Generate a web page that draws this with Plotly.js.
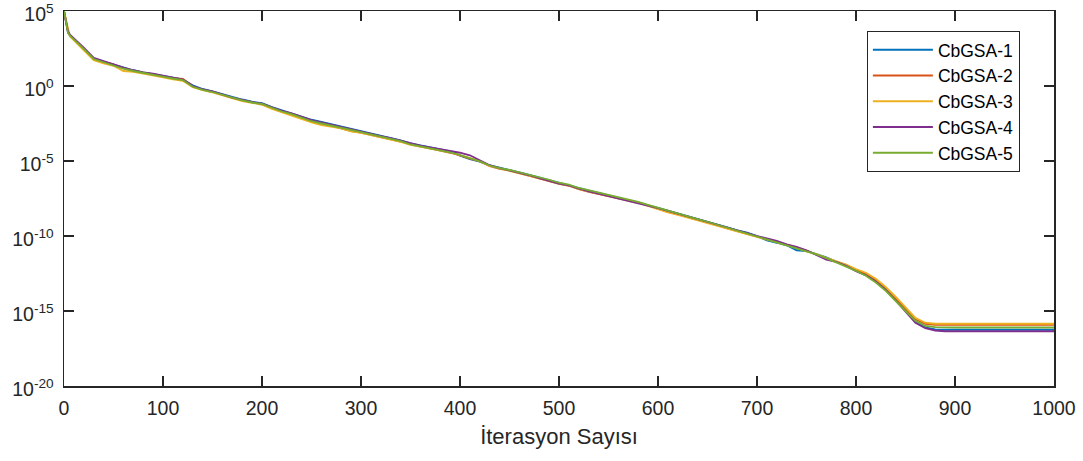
<!DOCTYPE html>
<html>
<head>
<meta charset="utf-8">
<script src="https://cdn.plot.ly/plotly-3.0.1.min.js"></script>
<style>html,body{margin:0;padding:0;background:#fff;}#chart{width:1083px;height:461px;}</style>
</head>
<body>
<div id="chart"></div>
<script>
// Iteration knots
const iterations = [0,2,4,6,10,20,30,40,50,60,70,80,90,100,110,120,130,140,150,160,170,180,190,200,210,220,230,240,250,260,270,280,290,300,310,320,330,340,350,360,370,380,390,400,410,420,430,440,450,460,470,480,490,500,510,520,530,540,550,560,570,580,590,600,610,620,630,640,650,660,670,680,690,700,710,720,730,740,750,760,770,780,790,800,810,820,830,840,850,860,870,880,890,900,1000];

// log10 of best fitness
const cbgsa1Log10 = [
 5.0, 4.3, 3.55, 3.35, 3.1, 2.5, 1.85, 1.62, 1.42, 1.2,
 1.05, 0.9, 0.8, 0.68, 0.55, 0.45, 0.05, -0.2, -0.35, -0.55,
 -0.75, -0.9, -1.05, -1.15, -1.4, -1.62, -1.8, -2.02, -2.25, -2.4,
 -2.55, -2.72, -2.9, -3.0, -3.15, -3.3, -3.45, -3.62, -3.82, -3.95,
 -4.08, -4.22, -4.35, -4.65, -4.88, -5.05, -5.3, -5.45, -5.58, -5.75,
 -5.92, -6.1, -6.3, -6.48, -6.62, -6.85, -6.98, -7.12, -7.28, -7.42,
 -7.6, -7.78, -7.95, -8.12, -8.3, -8.48, -8.68, -8.85, -9.02, -9.2,
 -9.42, -9.62, -9.78, -10.0, -10.3, -10.45, -10.62, -10.95, -11.0, -11.2,
 -11.42, -11.7, -11.95, -12.3, -12.6, -13.0, -13.55, -14.25, -14.95, -15.7,
 -16.1, -16.22, -16.25, -16.25, -16.25];
const cbgsa2Log10 = [
 5.0, 4.35, 3.6, 3.38, 3.12, 2.45, 1.82, 1.6, 1.45, 1.18,
 1.02, 0.88, 0.78, 0.62, 0.52, 0.48, -0.02, -0.25, -0.4, -0.62,
 -0.8, -0.95, -1.1, -1.22, -1.48, -1.7, -1.88, -2.1, -2.3, -2.48,
 -2.65, -2.82, -3.0, -3.1, -3.25, -3.4, -3.52, -3.7, -3.9, -4.02,
 -4.18, -4.3, -4.45, -4.62, -4.85, -5.02, -5.35, -5.52, -5.62, -5.8,
 -5.98, -6.18, -6.38, -6.52, -6.65, -6.88, -7.05, -7.18, -7.32, -7.45,
 -7.62, -7.75, -7.98, -8.2, -8.4, -8.55, -8.72, -8.9, -9.1, -9.28,
 -9.5, -9.68, -9.82, -10.02, -10.2, -10.38, -10.58, -10.78, -10.98, -11.25,
 -11.5, -11.72, -11.92, -12.25, -12.5, -12.92, -13.45, -14.15, -14.85, -15.55,
 -15.85, -15.92, -15.92, -15.92, -15.92];
const cbgsa3Log10 = [
 5.0, 4.45, 3.7, 3.3, 3.05, 2.4, 1.72, 1.5, 1.35, 1.0,
 0.95, 0.82, 0.72, 0.58, 0.45, 0.35, -0.08, -0.28, -0.42, -0.62,
 -0.82, -1.0, -1.12, -1.25, -1.52, -1.75, -1.95, -2.2, -2.42, -2.6,
 -2.7, -2.82, -3.02, -3.12, -3.28, -3.42, -3.55, -3.72, -3.92, -4.05,
 -4.15, -4.28, -4.42, -4.6, -4.82, -5.0, -5.32, -5.5, -5.65, -5.82,
 -6.0, -6.15, -6.35, -6.5, -6.62, -6.88, -7.05, -7.2, -7.35, -7.45,
 -7.65, -7.8, -8.0, -8.22, -8.42, -8.6, -8.78, -8.95, -9.12, -9.32,
 -9.52, -9.7, -9.85, -10.05, -10.25, -10.4, -10.58, -10.78, -11.02, -11.2,
 -11.45, -11.68, -11.9, -12.2, -12.45, -12.85, -13.4, -14.05, -14.75, -15.45,
 -15.78, -15.85, -15.85, -15.85, -15.85];
const cbgsa4Log10 = [
 5.0, 4.4, 3.65, 3.42, 3.18, 2.55, 1.88, 1.65, 1.4, 1.22,
 1.05, 0.9, 0.82, 0.7, 0.58, 0.42, 0.0, -0.22, -0.35, -0.58,
 -0.78, -0.92, -1.08, -1.18, -1.42, -1.65, -1.82, -2.05, -2.28, -2.42,
 -2.58, -2.75, -2.9, -3.02, -3.18, -3.35, -3.48, -3.65, -3.85, -3.98,
 -4.1, -4.2, -4.3, -4.45, -4.62, -4.95, -5.28, -5.48, -5.62, -5.78,
 -5.95, -6.15, -6.35, -6.5, -6.62, -6.85, -7.02, -7.18, -7.35, -7.48,
 -7.62, -7.8, -7.98, -8.15, -8.32, -8.5, -8.7, -8.88, -9.05, -9.22,
 -9.45, -9.62, -9.8, -10.0, -10.15, -10.32, -10.55, -10.72, -10.95, -11.25,
 -11.58, -11.72, -11.98, -12.35, -12.62, -13.05, -13.6, -14.3, -15.02, -15.78,
 -16.15, -16.3, -16.35, -16.35, -16.35];
const cbgsa5Log10 = [
 5.0, 4.38, 3.58, 3.36, 3.12, 2.48, 1.8, 1.58, 1.4, 1.15,
 1.0, 0.86, 0.76, 0.62, 0.5, 0.4, -0.05, -0.26, -0.4, -0.6,
 -0.8, -0.96, -1.1, -1.2, -1.45, -1.7, -1.88, -2.12, -2.35, -2.5,
 -2.65, -2.8, -2.98, -3.08, -3.22, -3.38, -3.5, -3.68, -3.9, -4.02,
 -4.15, -4.28, -4.42, -4.6, -4.82, -5.02, -5.3, -5.48, -5.6, -5.75,
 -5.9, -6.08, -6.25, -6.45, -6.58, -6.8, -6.95, -7.1, -7.25, -7.4,
 -7.58, -7.72, -7.92, -8.12, -8.32, -8.5, -8.7, -8.88, -9.05, -9.25,
 -9.45, -9.65, -9.8, -10.02, -10.22, -10.4, -10.6, -10.8, -11.0, -11.22,
 -11.48, -11.75, -12.0, -12.32, -12.65, -13.1, -13.65, -14.35, -15.0, -15.65,
 -16.0, -16.08, -16.1, -16.1, -16.1];

const seriesNames = ["CbGSA-1","CbGSA-2","CbGSA-3","CbGSA-4","CbGSA-5"];
const seriesColors = ["#0072BD","#D95319","#EDB120","#7E2F8E","#77AC30"];
const seriesLog10 = [cbgsa1Log10, cbgsa2Log10, cbgsa3Log10, cbgsa4Log10, cbgsa5Log10];

const yTickVals = [1e5, 1e0, 1e-5, 1e-10, 1e-15, 1e-20];
const yTickText = ["10<sup>5</sup>","10<sup>0</sup>","10<sup>-5</sup>","10<sup>-10</sup>","10<sup>-15</sup>","10<sup>-20</sup>"];
const xTickVals = [0,100,200,300,400,500,600,700,800,900,1000];

const traces = seriesLog10.map((arr, i) => ({
  type: 'scatter', mode: 'lines', name: seriesNames[i],
  x: iterations, y: arr.map(v => Math.pow(10, v)),
  line: {color: seriesColors[i], width: 1.8, shape: 'linear'},
  legendgroup: 'g' + i
}));

const axisCol = '#262626';
const layout = {
  width: 1083, height: 461,
  margin: {l: 64, r: 29, t: 11, b: 75},
  paper_bgcolor: '#fff', plot_bgcolor: '#fff',
  font: {family: 'Liberation Sans, Arial, sans-serif', color: axisCol, size: 19.5},
  showlegend: true,
  legend: {
    x: 0.811, y: 0.947, xanchor: 'left', yanchor: 'top',
    bgcolor: '#fff', bordercolor: axisCol, borderwidth: 1,
    font: {size: 17.5, color: '#000'}, tracegroupgap: 0, itemwidth: 60
  },
  xaxis: {
    range: [0, 1000], tickvals: xTickVals, ticks: 'inside', ticklen: 10, tickwidth: 1.5,
    tickcolor: axisCol, showline: true, linecolor: axisCol, linewidth: 1.5, mirror: 'ticks',
    showgrid: false, zeroline: false, tickfont: {size: 19.5}, ticklabelstandoff: 4,
    title: {text: 'İterasyon Sayısı', font: {size: 22}, standoff: 10}
  },
  yaxis: {
    type: 'log', range: [-20, 5], tickvals: yTickVals, ticktext: yTickText,
    ticks: 'inside', ticklen: 10, tickwidth: 1.5, tickcolor: axisCol,
    showline: true, linecolor: axisCol, linewidth: 1.5, mirror: 'ticks',
    showgrid: false, zeroline: false, tickfont: {size: 19.5}, ticklabeloverflow: 'allow',
    ticklabelstandoff: 5, ticklabelshift: 3
  }
};

Plotly.newPlot('chart', traces, layout, {displayModeBar: false, staticPlot: true});
</script>
</body>
</html>
